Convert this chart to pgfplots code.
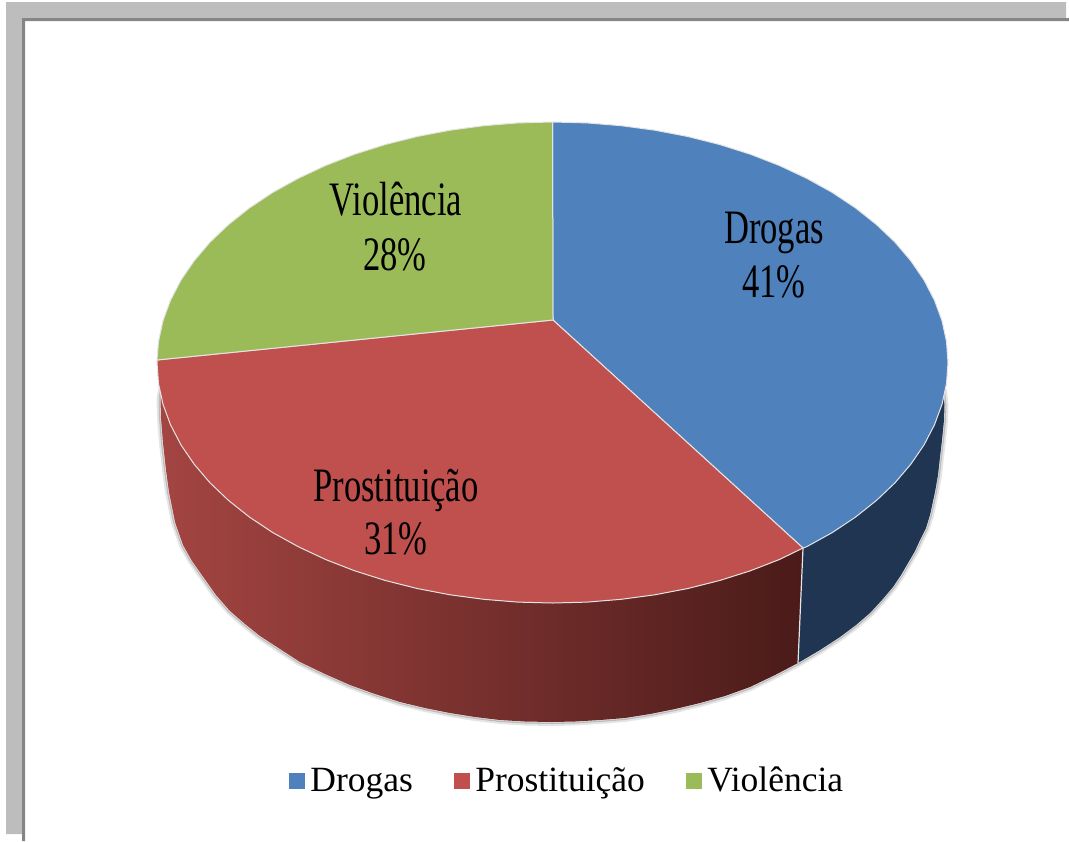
\documentclass[border=0pt]{standalone}
\usepackage{fontspec}
\setmainfont{Liberation Serif}
\newfontfamily\pielabel[FakeStretch=0.72]{Liberation Serif}
\usepackage{pgfplots}
\pgfplotsset{compat=1.18}

\definecolor{cDrogas}{HTML}{4F81BD}
\definecolor{cProst}{HTML}{C0504D}
\definecolor{cViol}{HTML}{9BBB59}
\definecolor{sideBlue}{HTML}{1F3551}
\definecolor{sideRedL}{HTML}{A44542}
\definecolor{sideRedM}{HTML}{702D2B}
\definecolor{sideRedR}{HTML}{4A1B19}
\definecolor{frameL}{HTML}{BDBDBD}
\definecolor{frameD}{HTML}{858585}
\definecolor{rim}{HTML}{E4E4E4}

% lower rim of the pie in pixels
\pgfplotstableread{
x y
943 390
944.5 405
944 420
942 440
940 457
938 475
935 492
930 515
926 528
920 540
915 551
908 563
901 575
893 587
882 600
870 613
856 625
840 637
820 650
798 663
775 675
750 687
725 696
700 703
675 709
650 714
625 718
600 720
575 721.5
552 722
525 721.5
500 720
475 717
450 713
425 708
400 702
375 694
350 685
325 674
300 662
280 649
260 636
245 624
230 611
216 595
204 578
192 561
183 545
175 522
169 492
166 470
163 443
161 418
160.5 398
163 385
}\rimtable

\begin{document}
\begin{tikzpicture}
\path[use as bounding box] (0,0) rectangle (534.5pt,420.5pt);
\begin{axis}[
  at={(0,0)}, anchor=south west,
  scale only axis, width=534.5pt, height=420.5pt,
  xmin=0, xmax=1069, ymin=0, ymax=841, y dir=reverse,
  hide axis,
  legend style={
    at={(axis cs:283,781)}, anchor=west, draw=none, fill=none,
    legend columns=-1, font=\fontsize{17.75}{20}\selectfont,
    /tikz/every even column/.append style={column sep=18.7pt},
    /tikz/every odd column/.append style={column sep=0.5pt},
  },
  legend image code/.code={
    \path[#1,draw=none] (0pt,-4pt) rectangle (8pt,4pt);
  },
]
% frame
\addplot[fill=frameL,draw=none,forget plot] coordinates {(6,834)(6,2)(1066,2)(1066,18)(22,18)(22,834)};
\addplot[fill=frameD,draw=none,forget plot] coordinates {(22,841)(22,18)(1069,18)(1069,21)(25,21)(25,841)};

% soft shadow along the rim
\addplot[draw=black,opacity=.10,line width=4pt,line join=round,forget plot] table[x=x,y=y] {\rimtable};
\addplot[draw=black,opacity=.18,line width=2pt,line join=round,forget plot] table[x=x,y=y] {\rimtable};
\addplot[draw=rim,line width=.7pt,line join=round,forget plot] table[x=x,y=y] {\rimtable};

% side walls
\addplot[fill=sideBlue,draw=none,forget plot] coordinates {
 (948,362)(943,390)(944.5,405)(944,420)(942,440)(940,457)(938,475)(935,492)(930,515)(926,528)(920,540)(915,551)
 (908,563)(901,575)(893,587)(882,600)(870,613)(856,625)(840,637)(820,650)(798,663)(803,548)};
\addplot[left color=sideRedL,middle color=sideRedM,right color=sideRedR,draw=none,forget plot] coordinates {
 (803,548)(798,663)(775,675)(750,687)(725,696)(700,703)(675,709)(650,714)(625,718)(600,720)(575,721.5)(552,722)
 (525,721.5)(500,720)(475,717)(450,713)(425,708)(400,702)(375,694)(350,685)(325,674)(300,662)(280,649)(260,636)
 (245,624)(230,611)(216,595)(204,578)(192,561)(183,545)(175,522)(169,492)(166,470)(163,443)(161,418)(160.5,398)
 (163,385)(157,362)};
\addplot[draw=rim,line width=.6pt,forget plot] coordinates {(803,548)(798,663)};

% top face, one wedge per category
\addplot[fill=cDrogas,draw=rim,line width=.5pt,line join=round] coordinates {
 (553,320)(552.5,122)(587,122.9)(621.2,125.7)(654.9,130.2)(687.8,136.5)(719.6,144.5)(750.3,154.2)(779.4,165.5)
 (806.7,178.3)(832.2,192.4)(855.5,207.9)(876.5,224.6)(895,242.2)(910.9,260.9)(924.1,280.2)(934.5,300.3)(942,320.7)
 (946.5,341.5)(948,362.5)(946.5,383.5)(942,404.3)(934.5,424.7)(924.1,444.8)(910.9,464.1)(895,482.8)(876.5,500.4)
 (855.5,517.1)(832.2,532.6)(806.7,546.7)(803,548)} -- cycle;
\addlegendentry{Drogas}
\addplot[fill=cProst,draw=rim,line width=.5pt,line join=round] coordinates {
 (553,320)(803,548)(779.4,559.5)(750.3,570.8)(719.6,580.5)(687.8,588.5)(654.9,594.8)(621.2,599.3)(587,602.1)
 (552.5,603)(518,602.1)(483.8,599.3)(450.1,594.8)(417.2,588.5)(385.4,580.5)(354.7,570.8)(325.6,559.5)(298.3,546.7)
 (272.8,532.6)(249.5,517.1)(228.5,500.4)(210,482.8)(194.1,464.1)(180.9,444.8)(170.5,424.7)(163,404.3)(158.5,383.5)
 (157,362.5)(157,360)} -- cycle;
\addlegendentry{Prostituição}
\addplot[fill=cViol,draw=rim,line width=.5pt,line join=round] coordinates {
 (553,320)(157,360)(158.5,341.5)(163,320.7)(170.5,300.3)(180.9,280.2)(194.1,260.9)(210,242.2)(228.5,224.6)
 (249.5,207.9)(272.8,192.4)(298.3,178.3)(325.6,165.5)(354.7,154.2)(385.4,144.5)(417.2,136.5)(450.1,130.2)
 (483.8,125.7)(518,122.9)(552.5,122)} -- cycle;
\addlegendentry{Violência}

% wedge labels
\tikzset{lab/.style={anchor=base,inner sep=0pt,font=\pielabel\fontsize{24}{28}\selectfont}}
\node[lab] at (axis cs:396,215) {Violência};
\node[lab] at (axis cs:395,270) {28\%};
\node[lab] at (axis cs:774,243) {Drogas};
\node[lab] at (axis cs:774,297) {41\%};
\node[lab] at (axis cs:396,501) {Prostituição};
\node[lab] at (axis cs:396,554) {31\%};
\end{axis}
\end{tikzpicture}
\end{document}
